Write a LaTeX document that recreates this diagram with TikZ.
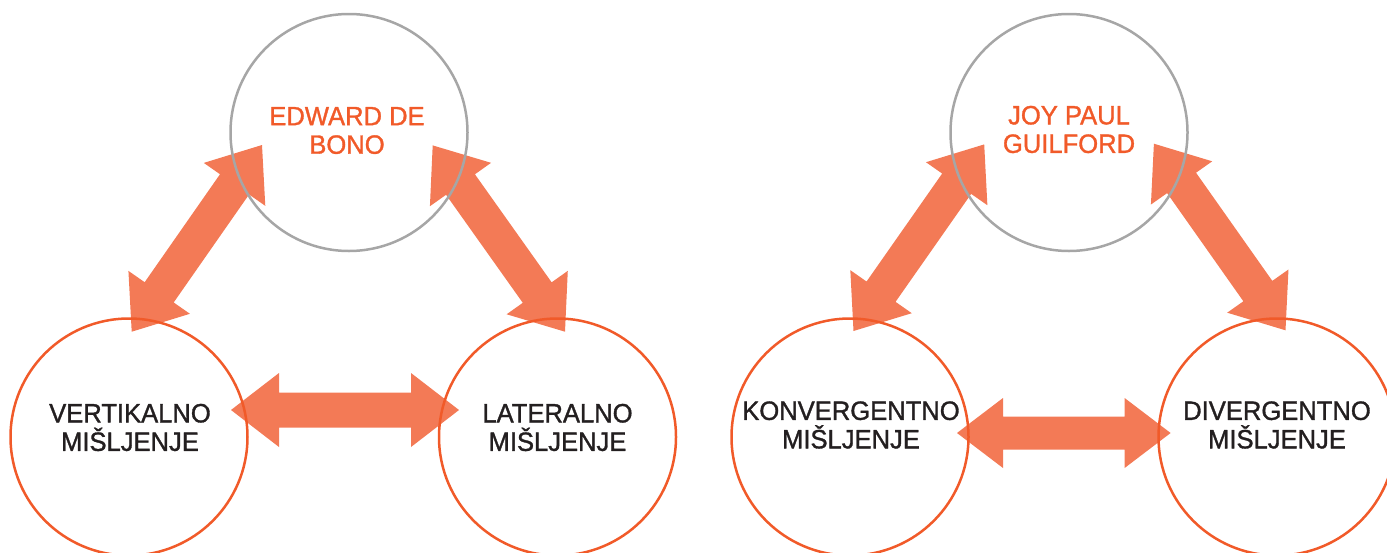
\documentclass[tikz,border=0pt]{standalone}
\usepackage{fontspec}
\setmainfont{Liberation Sans}[FakeStretch=0.965, FakeBold=1.2]
\usetikzlibrary{calc}

\definecolor{arrowfill}{HTML}{F37A56}
\definecolor{ringorange}{HTML}{F15A29}
\definecolor{ringgray}{HTML}{A6A6A6}
\definecolor{inkdark}{HTML}{231F20}
\definecolor{inkorange}{HTML}{F15A29}

% Double-headed block arrow between two named points:
% #1,#2 tips, #3 head length, #4 head half-width, #5 shaft half-width
\newcommand\blockarrow[5]{%
  \fill[arrowfill]
    (#1)
    -- ($(#1)!#3!(#2)!#4!90:(#2)$)
    -- ($(#1)!#3!(#2)!#5!90:(#2)$)
    -- ($(#2)!#3!(#1)!#5!-90:(#1)$)
    -- ($(#2)!#3!(#1)!#4!-90:(#1)$)
    -- (#2)
    -- ($(#2)!#3!(#1)!#4!90:(#1)$)
    -- ($(#2)!#3!(#1)!#5!90:(#1)$)
    -- ($(#1)!#3!(#2)!#5!-90:(#2)$)
    -- ($(#1)!#3!(#2)!#4!-90:(#2)$)
    -- cycle;}

\tikzset{
  ring/.style={circle, line width=2.5pt, minimum size=237pt, inner sep=0pt},
  authorring/.style={ring, draw=ringgray},
  modering/.style={ring, draw=ringorange},
  ringtext/.style={align=center, inner sep=0pt,
    font=\fontsize{26.5}{28.5}\selectfont},
  authortext/.style={ringtext, text=inkorange},
  modetext/.style={ringtext, text=inkdark},
}

\begin{document}
\begin{tikzpicture}[x=1pt, y=-1pt]
  \useasboundingbox (0,0) rectangle (1387,552);
  \clip (0,0) rectangle (1387,552);

  % ---- arrow tips ----
  % de Bono triangle
  \coordinate (bl-a) at (131.7,331.7);
  \coordinate (bl-b) at (262,145);
  \coordinate (br-a) at (432.7,145.4);
  \coordinate (br-b) at (565,331.7);
  \coordinate (bh-a) at (231,410);
  \coordinate (bh-b) at (459,410);
  % Guilford triangle
  \coordinate (gl-a) at (853.5,331);
  \coordinate (gl-b) at (984.2,144.4);
  \coordinate (gr-a) at (1153.9,143.7);
  \coordinate (gr-b) at (1285.5,330.3);
  \coordinate (gh-a) at (957,433);
  \coordinate (gh-b) at (1170.6,433);

  % ---- block arrows (beneath the rings) ----
  \blockarrow{bl-a}{bl-b}{48pt}{37.5pt}{17.7pt}
  \blockarrow{br-a}{br-b}{48pt}{37.5pt}{17.7pt}
  \blockarrow{bh-a}{bh-b}{48pt}{37pt}{17.5pt}
  \blockarrow{gl-a}{gl-b}{48pt}{37.5pt}{17.7pt}
  \blockarrow{gr-a}{gr-b}{48pt}{37.5pt}{17.7pt}
  \blockarrow{gh-a}{gh-b}{46pt}{35pt}{16.5pt}

  % ---- rings ----
  \node[authorring] (bono) at (349,132.5) {};
  \node[modering]   (vert) at (129,437) {};
  \node[modering]   (lat)  at (557.5,437) {};
  \node[authorring] (guil) at (1069,132.5) {};
  \node[modering]   (konv) at (850,437) {};
  \node[modering]   (div)  at (1277,437) {};

  % ---- captions ----
  \node[authortext] (bono-t) at (347,130.5) {EDWARD DE\\BONO};
  \node[modetext]   (vert-t) at (130,427.5) {VERTIKALNO\\MIŠLJENJE};
  \node[modetext]   (lat-t)  at (557.5,427.5) {LATERALNO\\MIŠLJENJE};
  \node[authortext] (guil-t) at (1069,129.5) {JOY PAUL\\GUILFORD};
  \node[modetext]   (konv-t) at (851,425) {KONVERGENTNO\\MIŠLJENJE};
  \node[modetext]   (div-t)  at (1277,425) {DIVERGENTNO\\MIŠLJENJE};
\end{tikzpicture}
\end{document}
